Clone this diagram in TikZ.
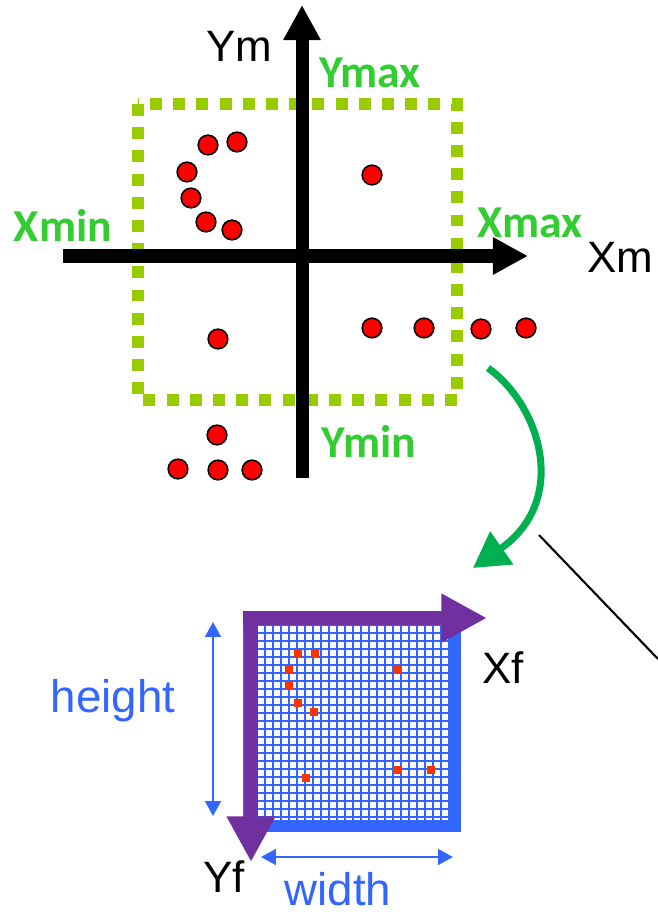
\documentclass[tikz,border=0pt]{standalone}
\usepackage{fontspec}
\setmainfont{Liberation Sans}
\newfontfamily\boundfont{Carlito}
\usetikzlibrary{arrows.meta}
\definecolor{ink}{HTML}{000000}
\definecolor{limegreen}{HTML}{99CC00}
\definecolor{boundgreen}{HTML}{33CC33}
\definecolor{flowgreen}{HTML}{00B050}
\definecolor{dotred}{HTML}{FF0000}
\definecolor{pixred}{HTML}{FF3300}
\definecolor{fblue}{HTML}{3366FF}
\definecolor{fpurple}{HTML}{7030A0}
\newcommand{\CellPx}{8}

\begin{document}
\begin{tikzpicture}[x=0.02cm, y=-0.02cm,
    axisline/.style={draw=ink, line width=7.4pt, -{Triangle[length=20pt,width=20pt]}},
    mlabel/.style={font=\fontsize{25}{30}\selectfont, text=ink, inner sep=0pt, anchor=base},
    boundlabel/.style={font=\boundfont\bfseries\fontsize{26}{31}\selectfont, text=boundgreen, inner sep=0pt, anchor=base},
    sizelabel/.style={font=\fontsize{26}{31}\selectfont, text=fblue, inner sep=0pt, anchor=base},
    window/.style={draw=limegreen, line width=6.8pt, dash pattern=on 6.8pt off 6.4pt},
    dot/.style={circle, draw=ink, line width=0.9pt, fill=dotred, minimum size=11.2pt, inner sep=0pt},
    pix/.style={rectangle, fill=pixred, minimum size=4.6pt, inner sep=0pt},
    gridline/.style={draw=fblue, line width=0.62pt},
    frameline/.style={draw=fblue, line width=6.8pt},
    faxis/.style={draw=fpurple, line width=8pt, -{Triangle[length=26pt,width=26pt]}},
    measure/.style={draw=fblue, line width=1.2pt, {Triangle[length=8.5pt,width=9pt]}-{Triangle[length=8.5pt,width=9pt]}},
    flow/.style={draw=flowgreen, line width=4pt, -{Triangle[length=20pt,width=22pt]}},
    guide/.style={draw=ink, line width=1.2pt},
  ]
\useasboundingbox (0,0) rectangle (658,912);

% --- Model space: window and axes ---------------------------------------------------
\draw[window] (138,104) rectangle (457,400);

\coordinate (xmL) at (63,256);
\coordinate (xmR) at (528,256);
\coordinate (ymB) at (302,478);
\coordinate (ymT) at (302,5);
\draw[axisline] (xmL) -- (xmR);
\draw[axisline] (ymB) -- (ymT);

\node[mlabel] (ym) at (239,62) {Ym};
\node[mlabel] (xm) at (620,272) {Xm};
\node[boundlabel] (ymax) at (370,88) {Ymax};
\node[boundlabel] (xmin) at (63,241) {Xmin};
\node[boundlabel] (xmax) at (530,237) {Xmax};
\node[boundlabel] (ymin) at (369,457) {Ymin};

% points of the model
\foreach \x/\y [count=\i] in {208/145,237/142,187/172,191/198,206/222,232/230,372/175,
    218/339,372/328,424/328,481/329,526/328,217/435,178/469,218/470,252/470}
  \node[dot] (d\i) at (\x,\y) {};

% --- Mapping --------------------------------------------------------------------------
\coordinate (flowA) at (488,368);
\coordinate (flowB) at (473,568);
\draw[flow] (flowA) .. controls (540,405) and (570,500) .. (flowB);

\coordinate (guideA) at (539,535);
\coordinate (guideB) at (658,659);
\draw[guide] (guideA) -- (guideB);

% --- Frame buffer ----------------------------------------------------------------------
\foreach \k in {0,...,24} {
  \draw[gridline] (257+\CellPx*\k,625) -- (257+\CellPx*\k,821);
  \draw[gridline] (257,625+\CellPx*\k) -- (449,625+\CellPx*\k);
}
\foreach \x/\y [count=\i] in {298/653,315/653,289/670,289/686,298/703,314/712,
    398/670,306/778,397/770,431/770}
  \node[pix] (p\i) at (\x,\y) {};

\draw[frameline] (249,619) rectangle (455,826);

\coordinate (fo) at (243,618);
\coordinate (xfT) at (487,618);
\coordinate (fo2) at (251,611);
\coordinate (yfT) at (251,862);
\draw[faxis] (fo) -- (xfT);
\draw[faxis] (fo2) -- (yfT);

\node[mlabel] (xf) at (503,683) {Xf};
\node[mlabel] (yf) at (224,892) {Yf};

% sizes
\coordinate (hT) at (213,622);
\coordinate (hB) at (213,816);
\coordinate (wL) at (261,857);
\coordinate (wR) at (453,857);
\draw[measure] (hT) -- (hB);
\draw[measure] (wL) -- (wR);
\node[sizelabel] (height) at (113,712) {height};
\node[sizelabel] (width) at (338,905) {width};
\end{tikzpicture}
\end{document}
